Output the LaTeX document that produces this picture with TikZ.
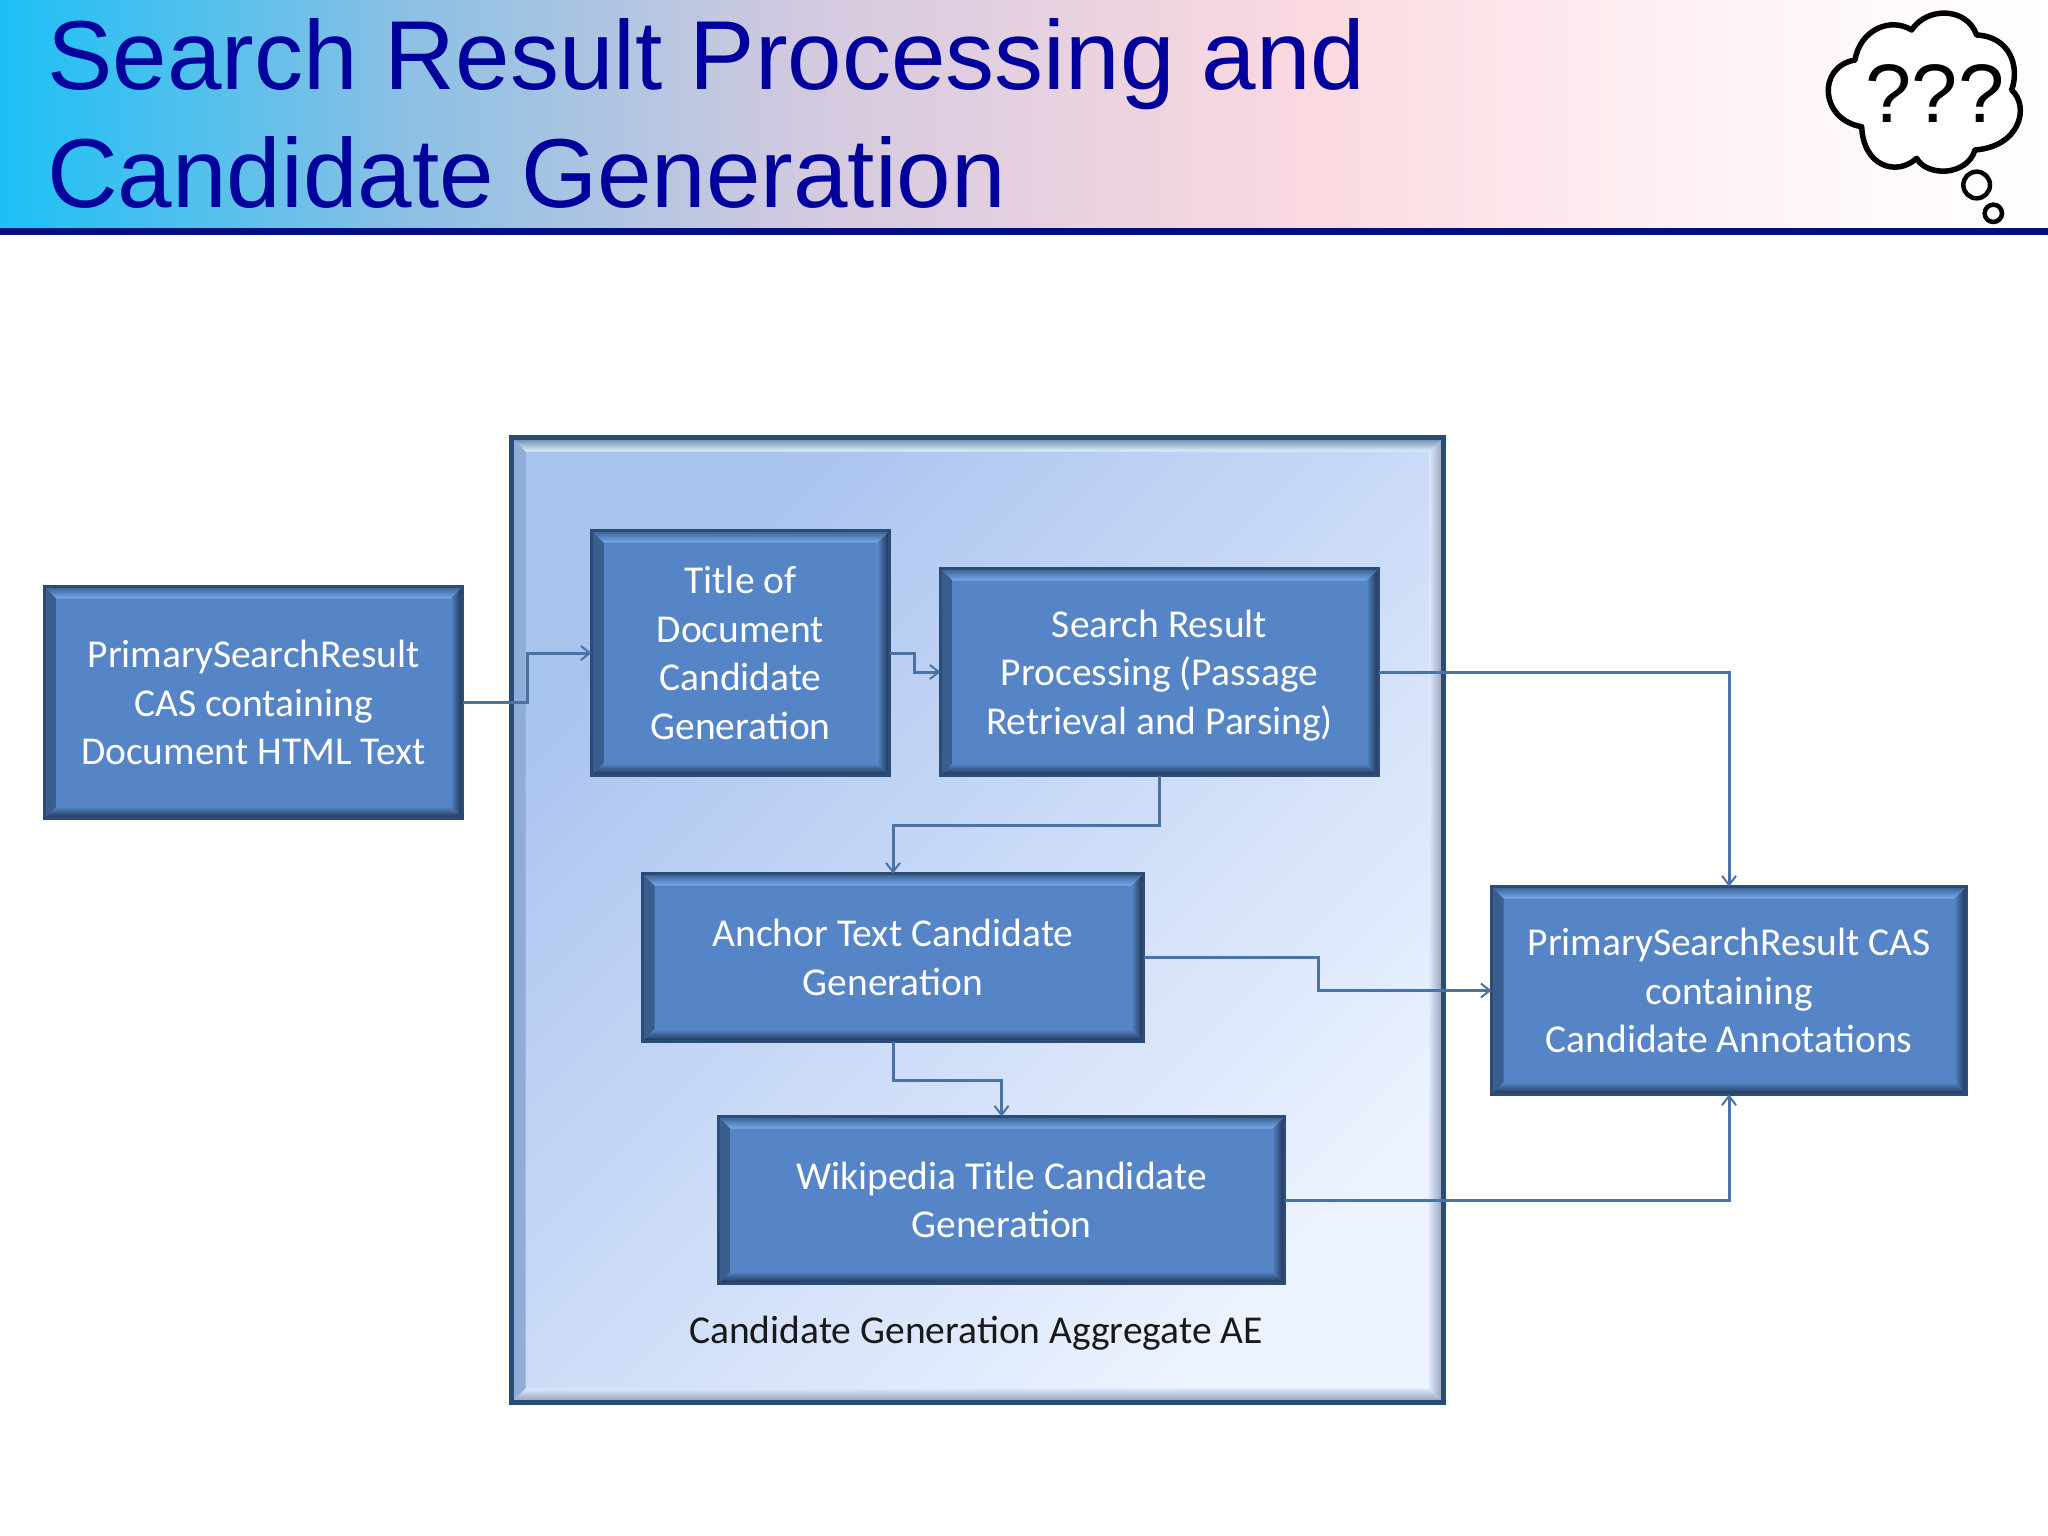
\documentclass[tikz,border=0pt]{standalone}
\usepackage{fontspec}
\setmainfont{Carlito}
\newfontfamily\titlefont{Liberation Sans}
\usetikzlibrary{arrows.meta,calc}

\definecolor{navy}{HTML}{000F80}
\definecolor{titleblue}{HTML}{00009C}
\definecolor{boxblue}{HTML}{5585C6}
\definecolor{boxedge}{HTML}{2D4C75}
\definecolor{boxtop}{HTML}{74ACEE}
\definecolor{boxdeep}{HTML}{1B2E4C}
\definecolor{linkblue}{HTML}{4A72A5}
\definecolor{aggedge}{HTML}{2A4D78}
\definecolor{aggdark}{HTML}{A9C3EF}
\definecolor{agglight}{HTML}{EDF3FF}
\definecolor{aggmid}{HTML}{BFD2F6}
\definecolor{aggtop}{HTML}{DDF3FC}
\definecolor{aggshade}{HTML}{8F9BB0}
\definecolor{fadea}{HTML}{1CC0F6}
\definecolor{fadeb}{HTML}{8CC0E4}
\definecolor{fadec}{HTML}{D4CADF}
\definecolor{faded}{HTML}{FBD9E1}
\definecolor{fadee}{HTML}{FFF3F5}

\pgfdeclarehorizontalshading{headerfade}{100bp}{
  color(0bp)=(fadea);
  color(25bp)=(fadea);
  color(35bp)=(fadeb);
  color(45bp)=(fadec);
  color(57bp)=(faded);
  color(67bp)=(fadee);
  color(75bp)=(white);
  color(100bp)=(white)}

% bevel faces of a box: width, top edge, top inner, side edge, right edge, face
\newcommand{\bevelpt}[3]{([xshift=#2,yshift=#3]path picture bounding box.#1)}
\newcommand{\bevelfaces}[6]{
  \shade[left color=#4,right color=#6]
    (path picture bounding box.north west) -- (path picture bounding box.south west)
    -- \bevelpt{south west}{#1}{#1} -- \bevelpt{north west}{#1}{-#1} -- cycle;
  \shade[left color=#6,right color=#5]
    (path picture bounding box.north east) -- (path picture bounding box.south east)
    -- \bevelpt{south east}{-#1}{#1} -- \bevelpt{north east}{-#1}{-#1} -- cycle;
  \shade[top color=#2,middle color=#3,bottom color=#3]
    (path picture bounding box.north west) -- (path picture bounding box.north east)
    -- \bevelpt{north east}{-#1}{-#1} -- \bevelpt{north west}{#1}{-#1} -- cycle;
  \shade[top color=#6,bottom color=#5]
    (path picture bounding box.south west) -- (path picture bounding box.south east)
    -- \bevelpt{south east}{-#1}{#1} -- \bevelpt{south west}{#1}{#1} -- cycle;
}

\tikzset{
  x=1pt,y=-1pt,
  box/.style={draw=boxedge,line width=2.5pt,fill=boxblue,text=white,align=center,
    font=\fontsize{39.5}{48.5}\selectfont,inner sep=0pt,outer sep=0pt,
    path picture={\bevelfaces{12pt}{boxedge!70!boxblue}{boxtop}{boxedge!70!boxblue}{boxdeep}{boxblue}}},
  aggregate/.style={draw=aggedge,line width=5pt,inner sep=0pt,outer sep=0pt,
    shade,top color=aggdark,bottom color=agglight,shading angle=45,
    path picture={\bevelfaces{14pt}{aggedge!60!aggmid}{aggtop}{aggedge!20!aggdark}{aggshade}{aggmid!40!agglight}}},
  link/.style={draw=linkblue,line width=3pt,-{Straight Barb[length=9pt,width=14pt,line width=2pt]}},
}

\begin{document}
\begin{tikzpicture}
\useasboundingbox (0,0) rectangle (2048,1536);
\fill[white] (0,0) rectangle (2048,1536);

% header band
\shade[shading=headerfade] (0,0) rectangle (2048,229);
\fill[navy] (0,228) rectangle (2048,235);
\node[anchor=north west,inner sep=0pt,text=titleblue,align=left,
  font=\titlefont\fontsize{98}{118}\selectfont] (title) at (47,18)
  {Search Result Processing and\\Candidate Generation};

% thought cloud
\begin{scope}[shift={(1780,0)},x=.3333pt,y=-.3333pt]
\filldraw[fill=white,draw=black,line width=5.5pt,line join=round]
  (225,180) .. controls (240,90) and (330,50) .. (395,90)
  .. controls (440,20) and (560,20) .. (590,105)
  .. controls (690,110) and (720,200) .. (695,270)
  .. controls (750,320) and (720,440) .. (585,450)
  .. controls (560,530) and (440,530) .. (410,475)
  .. controls (350,530) and (250,500) .. (245,380)
  .. controls (120,360) and (110,200) .. (225,180) -- cycle;
\draw[black,line width=4.5pt] (590,555) circle (40pt*.3333);
\draw[black,line width=4.5pt] (640,640) circle (26pt*.3333);
\node[inner sep=0pt,font=\titlefont\fontsize{83}{83}\selectfont] (think) at (465,280) {???};
\end{scope}

% aggregate frame
\node[aggregate,minimum width=932pt,minimum height=965pt] (agg) at (977.5,920) {};
\node[inner sep=0pt,text=black!90,font=\fontsize{39.5}{48}\selectfont] (agglabel) at (976,1333)
  {Candidate Generation Aggregate AE};

% boxes
\node[box,minimum width=418pt,minimum height=232pt] (a) at (253.5,702.5)
  {PrimarySearchResult\\CAS containing\\Document HTML Text};
\node[box,minimum width=298pt,minimum height=245pt] (b) at (740.5,653)
  {Title of\\Document\\Candidate\\Generation};
\node[box,minimum width=438pt,minimum height=207pt] (c) at (1159.5,672)
  {\rule{0pt}{34pt}Search Result\\Processing (Passage\\Retrieval and Parsing)};
\node[box,minimum width=501pt,minimum height=168pt] (d) at (893,957.5)
  {Anchor Text Candidate\\Generation};
\node[box,minimum width=566pt,minimum height=167pt] (e) at (1001.5,1200)
  {Wikipedia Title Candidate\\Generation};
\node[box,minimum width=475pt,minimum height=208pt] (f) at (1729,990.5)
  {PrimarySearchResult CAS\\containing\\Candidate Annotations};

% bend columns and rows
\coordinate (k1) at (527,0);
\coordinate (k2) at (914,0);
\coordinate (k3) at (0,825);
\coordinate (k4) at (1318,0);
\coordinate (k5) at (0,1080);

% connectors
\draw[link] (a.east) -- (k1 |- a.east) |- (b.west);
\draw[link] (b.east) -- (k2 |- b.east) |- (c.west);
\draw[link] (c.south) -- (c.south |- k3) -| (d.north);
\draw[link] (c.east) -| (f.north);
\draw[link] (d.east) -- (k4 |- d.east) |- (f.west);
\draw[link] (d.south) -- (d.south |- k5) -| (e.north);
\draw[link] (e.east) -| (f.south);
\end{tikzpicture}
\end{document}
